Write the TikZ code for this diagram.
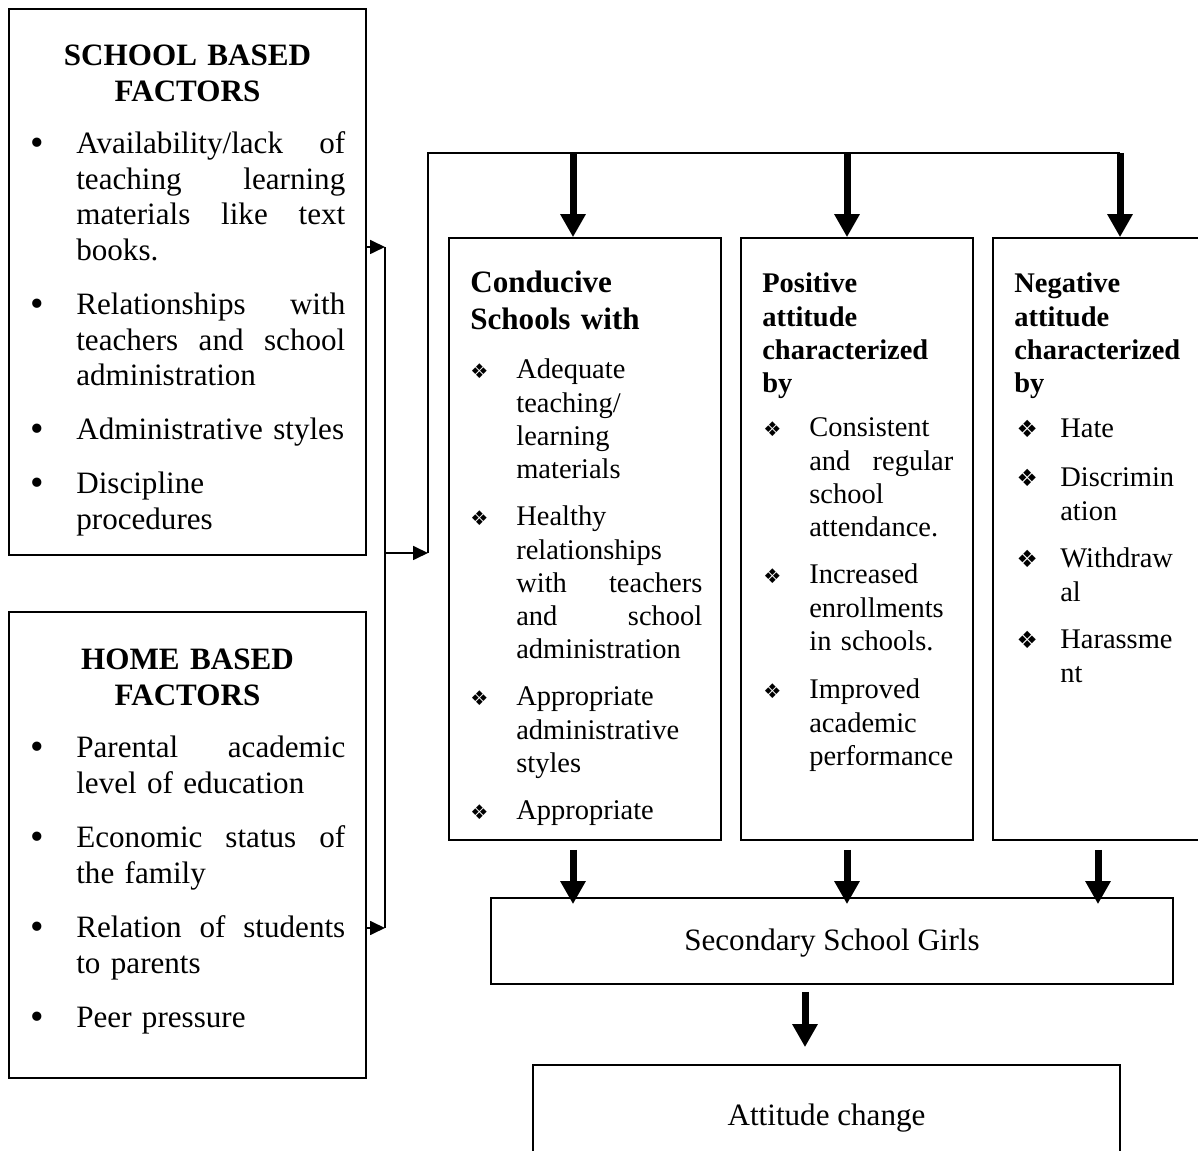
\documentclass[tikz,border=0pt]{standalone}
\usepackage{fontspec}
\setmainfont{Liberation Serif}
\newfontfamily\dingfont{DejaVu Sans}
\usetikzlibrary{arrows.meta}

\newcommand{\bodyfont}{\fontsize{17.7pt}{20.2pt}\selectfont}
\newcommand{\listfont}{\fontsize{16.2pt}{18.8pt}\selectfont}
\newcommand{\dotbullet}{\llap{\makebox[0pt][c]{\raisebox{-0.06em}{\fontsize{22pt}{22pt}\selectfont •}}\hspace{0.78cm}}}
\newcommand{\smalldiamond}{\llap{\makebox[0pt][c]{\dingfont\fontsize{11.5pt}{11.5pt}\selectfont ❖}\hspace{0.74cm}}}
\newcommand{\bigdiamond}{\llap{\makebox[0pt][c]{\dingfont\fontsize{13.5pt}{13.5pt}\selectfont ❖}\hspace{0.66cm}}}

\tikzset{
    box/.style={draw, rectangle, line width=0.035cm, inner sep=0pt},
    boxtext/.style={anchor=base, inner sep=0pt, font=\bodyfont},
    headtext/.style={anchor=base, inner sep=0pt, text width=7cm, align=center, font=\bfseries\bodyfont},
    condhead/.style={anchor=base west, inner sep=0pt, text width=5cm, align=left, font=\bfseries\fontsize{17.7pt}{21pt}\selectfont},
    subhead/.style={anchor=base west, inner sep=0pt, text width=4cm, align=left, font=\bfseries\listfont},
    lefttext/.style={anchor=base west, inner sep=0pt, text width=5.38cm, align=left, font=\bodyfont},
    condtext/.style={anchor=base west, inner sep=0pt, text width=3.72cm, align=left, font=\listfont},
    postext/.style={anchor=base west, inner sep=0pt, text width=2.88cm, align=left, font=\listfont},
    negtext/.style={anchor=base west, inner sep=0pt, text width=2.6cm, align=left, font=\listfont},
    link/.style={line width=0.035cm},
    linkarrow/.style={line width=0.035cm, -{Triangle[width=0.28cm, length=0.3cm]}},
    bigarrow/.style={line width=0.14cm, -{Triangle[width=0.48cm, length=0.46cm]}}
}

\begin{document}
\begin{tikzpicture}[x=0.02cm, y=-0.02cm]
    \useasboundingbox (0, 0) rectangle (1198, 1151);
    \fill [white] (0, 0) rectangle (1198, 1151);

    \node (school) at (187.5, 282) [box, minimum width=7.14cm, minimum height=10.92cm] {};
    \node (home) at (187.5, 845) [box, minimum width=7.14cm, minimum height=9.32cm] {};
    \node (conducive) at (585, 539) [box, minimum width=5.44cm, minimum height=12.04cm] {};
    \node (positive) at (857, 539) [box, minimum width=4.64cm, minimum height=12.04cm] {};
    \node (negative) at (1101.5, 539) [box, minimum width=4.34cm, minimum height=12.04cm] {};
    \node (girls) at (832, 941) [box, minimum width=13.64cm, minimum height=1.72cm] {};
    \node (change) at (826.5, 1115) [box, minimum width=11.74cm, minimum height=2cm] {};
    \node (girlstext) at (832, 951) [boxtext] {Secondary School Girls};
    \node (changetext) at (826.5, 1126) [boxtext] {Attitude change};

    \node (schoolhead) at (187.5, 66) [headtext] {SCHOOL BASED\\FACTORS};
    \node (s1) at (76, 154) [lefttext] {\dotbullet Availability/lack\hfill of\\teaching\hfill learning\\materials\hfill like\hfill text\\books.};
    \node (s2) at (76, 315) [lefttext] {\dotbullet Relationships\hfill with\\teachers\hfill and\hfill school\\administration};
    \node (s3) at (76, 440) [lefttext] {\dotbullet Administrative styles};
    \node (s4) at (76, 494) [lefttext] {\dotbullet Discipline\\procedures};

    \node (homehead) at (187.5, 670) [headtext] {HOME BASED\\FACTORS};
    \node (h1) at (76, 758) [lefttext] {\dotbullet Parental\hfill academic\\level of education};
    \node (h2) at (76, 848) [lefttext] {\dotbullet Economic\hfill status\hfill of\\the family};
    \node (h3) at (76, 938) [lefttext] {\dotbullet Relation\hfill of\hfill students\\to parents};
    \node (h4) at (76, 1028) [lefttext] {\dotbullet Peer pressure};

    \node (condtitle) at (470, 293) [condhead] {Conducive\\Schools with};
    \node (c1) at (516, 379) [condtext] {\smalldiamond Adequate\\teaching/\\learning\\materials};
    \node (c2) at (516, 526) [condtext] {\smalldiamond Healthy\\relationships\\with\hfill teachers\\and\hfill school\\administration};
    \node (c3) at (516, 706) [condtext] {\smalldiamond Appropriate\\administrative\\styles};
    \node (c4) at (516, 820) [condtext] {\smalldiamond Appropriate};

    \node (postitle) at (762, 293) [subhead] {Positive\\attitude\\characterized\\by};
    \node (p1) at (809, 437) [postext] {\smalldiamond Consistent\\and\hfill regular\\school\\attendance.};
    \node (p2) at (809, 584) [postext] {\smalldiamond Increased\\enrollments\\in schools.};
    \node (p3) at (809, 699) [postext] {\smalldiamond Improved\\academic\\performance};

    \node (negtitle) at (1014, 293) [subhead] {Negative\\attitude\\characterized\\by};
    \node (n1) at (1060, 438) [negtext] {\bigdiamond Hate};
    \node (n2) at (1060, 487) [negtext] {\bigdiamond Discrimin\\ation};
    \node (n3) at (1060, 568) [negtext] {\bigdiamond Withdraw\\al};
    \node (n4) at (1060, 649) [negtext] {\bigdiamond Harassme\\nt};

    \coordinate (busA) at (385, 247);
    \coordinate (busB) at (385, 928);
    \coordinate (busC) at (385, 553);
    \coordinate (riseA) at (428, 553);
    \coordinate (riseB) at (428, 153);
    \coordinate (topA) at (573, 153);
    \coordinate (topB) at (847, 153);
    \coordinate (topC) at (1120, 153);
    \coordinate (lowA) at (573, 850);
    \coordinate (lowB) at (847, 850);
    \coordinate (lowC) at (1098, 850);
    \coordinate (lowD) at (805, 992);

    \draw [linkarrow] (school.east |- busA) -- (busA);
    \draw [linkarrow] (home.east |- busB) -- (busB);
    \draw [link] (busA) -- (busB);
    \draw [linkarrow] (busC) -- (riseA);
    \draw [link] (riseA) -- (riseB) -- (topC);

    \draw [bigarrow] (topA) -- (topA |- conducive.north);
    \draw [bigarrow] (topB) -- (topB |- positive.north);
    \draw [bigarrow] (topC) -- (topC |- negative.north);
    \draw [bigarrow] (lowA) -- ([yshift=-0.14cm] lowA |- girls.north);
    \draw [bigarrow] (lowB) -- ([yshift=-0.14cm] lowB |- girls.north);
    \draw [bigarrow] (lowC) -- ([yshift=-0.14cm] lowC |- girls.north);
    \draw [bigarrow] (lowD) -- ([yshift=0.34cm] lowD |- change.north);
\end{tikzpicture}
\end{document}
